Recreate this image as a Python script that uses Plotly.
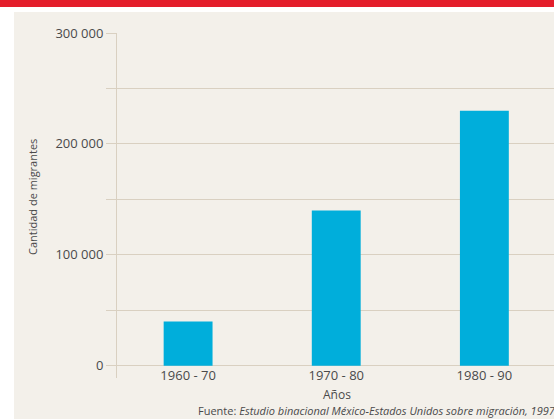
# -*- coding: utf-8 -*-
import plotly.graph_objects as go

# datos
periodos = ["1960 - 70", "1970 - 80", "1980 - 90"]
migrantes = [40000, 140000, 230000]
y_ticks = [0, 50000, 100000, 150000, 200000, 250000, 300000]
y_labels = ["0", "", "100 000", "", "200 000", "", "300 000"]

AZUL = "#00AEDB"
ROJO = "#E41E2B"
BEIGE = "#F3F0EA"
LINEA = "#D9D0C1"
TEXTO = "#4A4A4A"
FUENTE = "Open Sans, Arial, sans-serif"

fig = go.Figure()
fig.add_trace(go.Bar(
    x=list(range(len(periodos))), y=migrantes,
    marker=dict(color=AZUL, line=dict(width=0)),
    width=0.33,
    hoverinfo="y",
))

fig.update_layout(
    width=554, height=419,
    margin=dict(l=117, r=0, t=33, b=41),
    paper_bgcolor="#FFFFFF",
    plot_bgcolor=BEIGE,
    showlegend=False,
    font=dict(family=FUENTE, color=TEXTO, size=12),
    xaxis=dict(
        range=[-0.48, 2.47],
        tickvals=list(range(len(periodos))),
        ticktext=periodos,
        tickfont=dict(size=13, color=TEXTO),
        showgrid=False,
        zeroline=False,
        showline=False,
        ticks="",
        anchor="free",
        position=11000 / 311000,
        fixedrange=True,
    ),
    yaxis=dict(
        range=[-11000, 300000],
        tickvals=y_ticks,
        ticktext=y_labels,
        tickfont=dict(size=13, color=TEXTO),
        ticks="outside", ticklen=10, tickcolor=LINEA, tickwidth=1,
        gridcolor=LINEA, gridwidth=1,
        showline=True, linecolor=LINEA, linewidth=1,
        zeroline=True, zerolinecolor=LINEA, zerolinewidth=1,
        fixedrange=True,
    ),
    shapes=[
        # panel beige
        dict(type="rect", xref="paper", yref="paper", layer="below",
             x0=(14 - 117) / 437, x1=1.01, y0=-0.2, y1=1 + 21 / 345,
             fillcolor=BEIGE, line=dict(width=0)),
        # franja roja superior
        dict(type="rect", xref="paper", yref="paper", layer="below",
             x0=-0.3, x1=1.01, y0=1 + 26 / 345, y1=1.2,
             fillcolor=ROJO, line=dict(width=0)),
    ],
    annotations=[
        dict(text="Cantidad de migrantes", xref="paper", yref="paper",
             x=(33 - 117) / 437, y=(378 - 197) / 345, textangle=-90,
             showarrow=False, font=dict(size=11, color=TEXTO),
             xanchor="center", yanchor="middle"),
        dict(text="Años", xref="paper", yref="paper",
             x=(337 - 117) / 437, y=(378 - 394) / 345,
             showarrow=False, font=dict(size=12, color=TEXTO),
             xanchor="center", yanchor="middle"),
        dict(text="Fuente: <i>Estudio binacional México-Estados Unidos sobre migración, 1997</i>",
             xref="paper", yref="paper",
             x=(558 - 117) / 437, y=(378 - 411) / 345,
             showarrow=False, font=dict(size=11, color=TEXTO),
             xanchor="right", yanchor="middle"),
    ],
)

fig.write_html(
    "out.html",
    config={"displayModeBar": False},
    post_script="document.body.style.margin='0';document.body.style.overflow='hidden';",
)
